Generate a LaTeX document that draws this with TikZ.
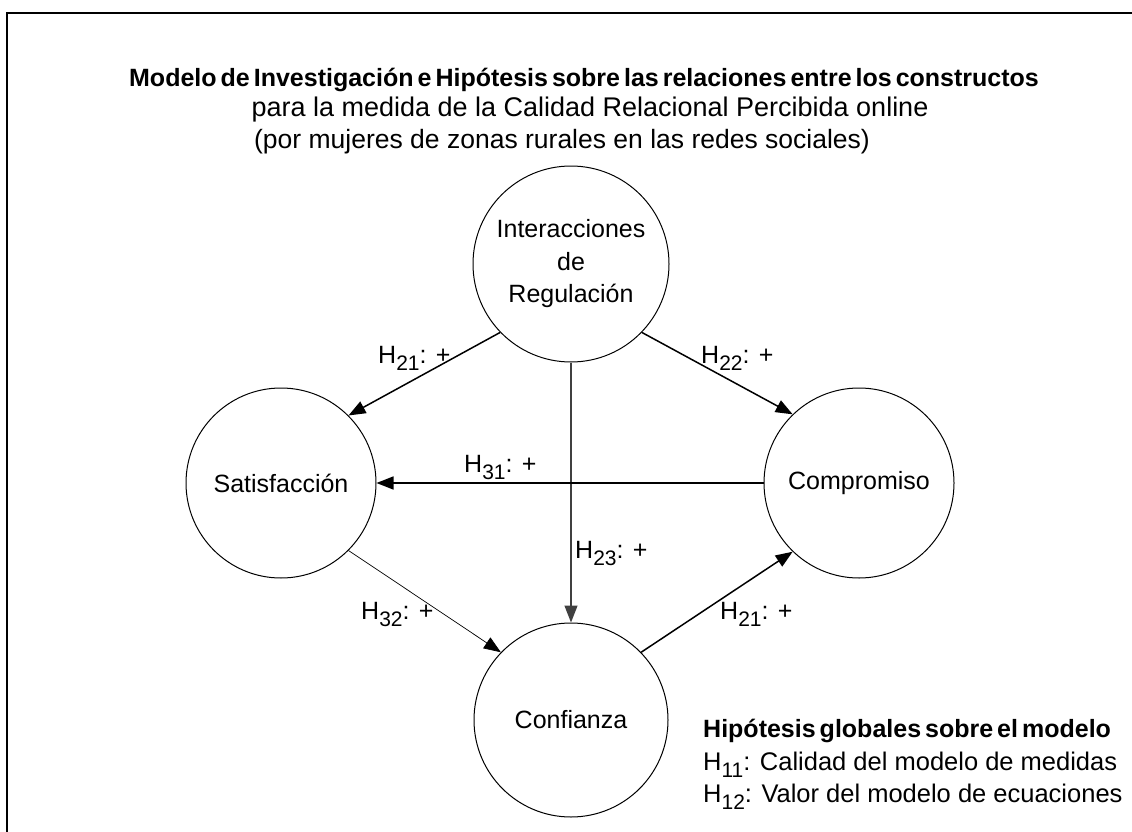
\documentclass[tikz,border=0pt]{standalone}
\usepackage{fontspec}
\setmainfont{Liberation Sans}
\usetikzlibrary{arrows.meta}
\newcommand\lo[1]{\raisebox{-7pt}{\fontsize{21}{21}\selectfont #1}}
\newcommand\tightsp{\spaceskip 4pt\relax}
\begin{document}
\begin{tikzpicture}[x=1pt,y=-1pt,
  construct/.style={draw, circle, line width=1pt, inner sep=0pt, align=center,
    font=\fontsize{25}{32.5}\selectfont},
  hyp/.style={line width=1.5pt, -{Triangle[length=17pt,width=13pt]}},
  lab/.style={anchor=base west, inner sep=0pt, font=\fontsize{25}{30}\selectfont},
  ttlb/.style={anchor=base, inner sep=0pt, font=\bfseries\fontsize{25}{30}\selectfont\tightsp},
  ttl/.style={anchor=base, inner sep=0pt, font=\fontsize{27}{30}\selectfont},
  leg/.style={anchor=base west, inner sep=0pt, font=\fontsize{25.5}{30}\selectfont},
  legb/.style={anchor=base west, inner sep=0pt, font=\bfseries\fontsize{25}{30}\selectfont\tightsp}]
\useasboundingbox (0,0) rectangle (1132,832);
\draw[line width=2pt] (7,832) -- (7,13) -- (1132,13);

\node[ttlb] (t1) at (584,87) {Modelo de Investigación e Hipótesis sobre las relaciones entre los constructos};
\node[ttl] (t2) at (590,117) {para la medida de la Calidad Relacional Percibida online};
\node[ttl, font=\fontsize{26.5}{30}\selectfont] (t3) at (562,148) {(por mujeres de zonas rurales en las redes sociales)};

\node[construct, minimum size=196pt] (int) at (571,264) {Interacciones\\de\\Regulación};
\node[construct, minimum size=190pt] (sat) at (281,483) {Satisfacción};
\node[construct, minimum size=190pt] (com) at (859,483) {Compromiso};
\node[construct, minimum size=194pt] (con) at (571,720) {Confianza};

\draw[hyp] (int.-136) -- (sat.45);
\draw[hyp] (int.-44) -- (com.134);
\draw[hyp, draw=black!75, line width=1.3pt] (int.south) -- (con.north);
\draw[hyp] (com.west) -- (sat.east);
\draw[hyp, line width=0.7pt] (sat.-45) -- (con.136);
\draw[hyp] (con.44) -- (com.-134);

\node[lab] (l21) at (378,363) {H\lo{21}: +};
\node[lab] (l22) at (701,363) {H\lo{22}: +};
\node[lab] (l31) at (464,472) {H\lo{31}: +};
\node[lab] (l23) at (575,558) {H\lo{23}: +};
\node[lab] (l32) at (361,619) {H\lo{32}: +};
\node[lab] (l21b) at (720,619) {H\lo{21}: +};

\node[legb] (g0) at (703,737) {Hipótesis globales sobre el modelo};
\node[leg] (g1) at (703,770) {H\lo{11}: Calidad del modelo de medidas};
\node[leg] (g2) at (703,802) {H\lo{12}: Valor del modelo de ecuaciones};
\end{tikzpicture}
\end{document}
